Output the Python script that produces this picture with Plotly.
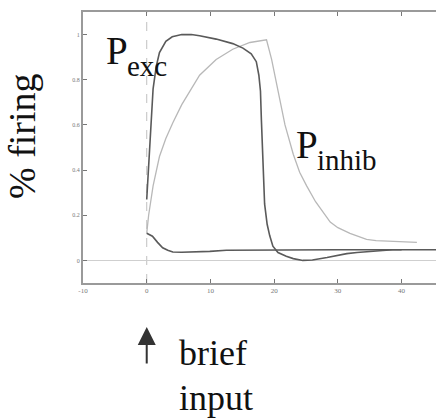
import plotly.graph_objects as go

# ---- data ----
t_exc = [0, 0.3, 0.6, 1.0, 1.5, 2.0, 3.0, 4.0, 5.5, 7.0, 8.3, 10.9, 13.5, 15.1, 16.4, 17.2,
         17.6, 17.85, 18.0, 18.2, 18.5, 18.9, 19.3, 19.8, 20.6, 21.9, 23.0, 24.5, 26.0, 28.3,
         30.0, 31.4, 33.0, 35.0, 37.0, 38.6, 40.0]
v_exc = [0.27, 0.42, 0.58, 0.76, 0.86, 0.92, 0.97, 0.99, 1.0, 1.0, 0.995, 0.98, 0.96, 0.94, 0.915, 0.88,
         0.82, 0.75, 0.62, 0.45, 0.25, 0.16, 0.11, 0.063, 0.035, 0.018, 0.008, 0.0, 0.002, 0.013,
         0.022, 0.03, 0.035, 0.04, 0.044, 0.047, 0.047]

t_base = [0, 0.9, 1.7, 2.5, 3.3, 4.1, 5.5, 7.2, 9.9, 12.5, 20, 30, 45.5]
v_base = [0.12, 0.107, 0.08, 0.056, 0.045, 0.037, 0.036, 0.037, 0.04, 0.045, 0.047, 0.047, 0.047]

t_inh = [0, 0.3, 1.0, 2.0, 3.0, 4.1, 5.5, 6.75, 8.3, 10.9, 13.5, 16.2, 18.8, 19.6, 20.6, 21.7,
         23.0, 24.0, 25.1, 26.5, 28.8, 30.0, 31.9, 34.5, 36.0, 38.7, 42.4]
v_inh = [0.12, 0.2, 0.33, 0.46, 0.54, 0.61, 0.69, 0.75, 0.82, 0.89, 0.935, 0.965, 0.977, 0.89, 0.75, 0.60,
         0.47, 0.39, 0.33, 0.26, 0.17, 0.145, 0.12, 0.093, 0.088, 0.085, 0.08]

x_ticks = [-10, 0, 10, 20, 30, 40]
y_ticks = [0, 0.2, 0.4, 0.6, 0.8, 1]
y_tick_labels = ["0", "0.2", "0.4", "0.6", "0.8", "1"]
input_time = 0

W, H = 436, 418
L, R, T, B = 83, 0, 12, 135
PW, PH = W - L - R, H - T - B


def px(xp):
    return (xp - L) / PW


def py(yp):
    return (H - B - yp) / PH


SERIF = "Liberation Serif, Times New Roman, DejaVu Serif, serif"

fig = go.Figure()
fig.add_trace(go.Scatter(x=t_inh, y=v_inh, mode="lines",
                         line=dict(color="#b8b8b8", width=1.3), showlegend=False))
fig.add_trace(go.Scatter(x=t_base, y=v_base, mode="lines",
                         line=dict(color="#5a5a5a", width=1.6), showlegend=False))
fig.add_trace(go.Scatter(x=t_exc, y=v_exc, mode="lines",
                         line=dict(color="#5a5a5a", width=1.6), showlegend=False))

fig.add_shape(type="line", xref="x", yref="paper", x0=input_time, x1=input_time, y0=0, y1=1,
              line=dict(color="#c0c0c0", width=1, dash="dash"), layer="below")

ann = []


def txt(s, xl, yc, size, **kw):
    ann.append(dict(text=s, xref="paper", yref="paper", x=px(xl), y=py(yc),
                    xanchor=kw.get("xanchor", "left"), yanchor="middle", showarrow=False,
                    font=dict(family=SERIF, size=size, color="#111"),
                    borderpad=0, borderwidth=0, textangle=kw.get("angle", 0)))


txt("P", 106, 50, 39)
txt("exc", 127, 66, 29)
txt("P", 296, 144, 39)
txt("inhib", 317, 160, 29)
txt("% firing", 22, 136, 38, xanchor="center", angle=-90)
txt("brief", 179, 353, 36)
txt("input", 179, 398, 36)

ann.append(dict(text="", xref="x", yref="paper", x=input_time, y=py(327),
                ax=0, ay=38, showarrow=True, arrowhead=2, arrowsize=1.8,
                arrowwidth=2, arrowcolor="#333"))

fig.update_layout(
    width=W, height=H,
    margin=dict(l=L, r=R, t=T, b=B),
    paper_bgcolor="white", plot_bgcolor="white",
    annotations=ann,
    xaxis=dict(range=[-10, 45.4], tickvals=x_ticks, ticktext=[str(v) for v in x_ticks],
               showgrid=False, zeroline=False, showline=True, linecolor="#9a9a9a", linewidth=2,
               mirror="ticks", ticks="inside", ticklen=4, tickcolor="#777", tickwidth=1,
               tickfont=dict(family=SERIF, size=7, color="#777")),
    yaxis=dict(range=[-0.1, 1.1], tickvals=y_ticks, ticktext=y_tick_labels,
               showgrid=False, zeroline=True, zerolinecolor="#cfcfcf", zerolinewidth=1,
               showline=True, linecolor="#9a9a9a", linewidth=2, mirror=False,
               ticks="inside", ticklen=4, tickcolor="#777", tickwidth=1,
               tickfont=dict(family=SERIF, size=6, color="#777")),
)

fig.write_html("out.html")
